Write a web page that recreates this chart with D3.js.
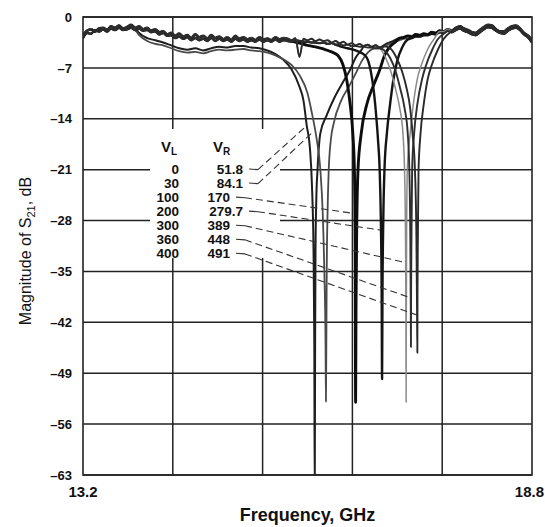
<!DOCTYPE html>
<html><head><meta charset="utf-8">
<script src="https://cdn.jsdelivr.net/npm/d3@7"></script>
<style>
html,body{margin:0;padding:0;background:#fff;}
svg{display:block;font-family:"Liberation Sans",Arial,Helvetica,sans-serif;}
</style></head>
<body>
<svg id="chart" width="545" height="527"></svg>
<script>
// ---------- DATA ----------
const xDomain = [13.2, 18.8];
const yDomain = [-63, 0];
const yTicks = [0, -7, -14, -21, -28, -35, -42, -49, -56, -63];
const xTickLabels = [13.2, 18.8];
const xGrid = [14.32, 15.44, 16.56, 17.68];

const VL = [0, 30, 100, 200, 300, 360, 400];
const VR = ["51.8", "84.1", "170", "279.7", "389", "448", "491"];

// leader line targets (frequency GHz, dB)
const leaderF  = [15.994, 16.069, 16.568, 16.904, 17.191, 17.278, 17.366];
const leaderDb = [-14.9, -15.8, -27.0, -29.3, -33.7, -38.6, -41.0];

// shared baseline frequency grid (GHz)
const baseFreq = [13.20,13.25,13.30,13.35,13.40,13.45,13.50,13.55,13.60,13.65,13.70,13.75,13.80,13.85,13.90,13.95,
14.00,14.05,14.10,14.15,14.20,14.25,14.30,14.35,14.40,14.45,14.50,14.55,14.60,14.65,14.70,14.75,14.80,14.85,14.90,14.95,
15.00,15.05,15.10,15.15,15.20,15.25,15.30,15.35,15.40,15.45,15.50,15.55,15.60,15.65,15.70,15.75,15.80,15.85,15.90,15.95,
16.00,16.05,16.10,16.15,16.20,16.25,16.30,16.35,16.40,16.45,16.50,16.55,16.60,16.65,16.70,16.75,16.80,16.85,16.90,16.95,
17.00,17.05,17.10,17.15,17.20,17.25,17.30,17.35,17.40,17.45,17.50,17.55,17.60,17.65,17.70,17.75,17.80,17.85,17.90,17.95,
18.00,18.05,18.10,18.15,18.20,18.25,18.30,18.35,18.40,18.45,18.50,18.55,18.60,18.65,18.70,18.75,18.80];

// noisy off-resonance trace A (dB)
const baseA = [-2.6,-1.9,-1.7,-2.0,-1.6,-1.5,-1.8,-1.3,-1.5,-1.2,-1.6,-1.4,-1.1,-1.5,-1.3,-1.7,
-1.5,-1.9,-1.7,-2.1,-2.0,-2.4,-2.2,-2.6,-2.3,-2.7,-2.5,-2.9,-2.4,-2.8,-2.6,-3.0,-2.5,-2.9,-2.7,-3.1,
-2.8,-3.2,-2.6,-3.0,-2.8,-3.1,-2.9,-3.2,-2.8,-3.1,-3.0,-3.2,-2.8,-3.1,-2.9,-3.0,-3.2,-2.9,-5.5,-3.0,
-3.2,-3.0,-3.3,-3.1,-3.3,-3.2,-3.5,-3.3,-3.6,-3.4,-3.8,-3.6,-3.9,-3.7,-4.0,-3.8,-4.1,-3.9,-4.2,-3.9,
-3.6,-3.4,-3.1,-2.9,-2.8,-2.6,-2.7,-2.4,-2.5,-2.3,-2.4,-2.1,-2.2,-1.9,-2.0,-1.7,-1.9,-1.5,-1.3,-1.6,
-1.8,-2.1,-2.2,-1.8,-1.4,-1.1,-1.2,-1.7,-2.0,-2.0,-1.6,-1.3,-1.2,-1.6,-2.2,-2.6,-3.2];

// noisy off-resonance trace B (dB)
const baseB = [-2.9,-2.2,-2.3,-1.8,-2.0,-1.7,-2.0,-1.6,-1.8,-1.5,-1.8,-1.7,-1.5,-1.8,-1.6,-1.9,
-1.8,-2.1,-2.0,-2.4,-2.2,-2.6,-2.5,-2.9,-2.7,-3.0,-2.8,-3.2,-2.9,-3.2,-3.0,-3.3,-2.9,-3.3,-3.0,-3.3,
-3.1,-3.4,-3.0,-3.3,-3.1,-3.4,-3.2,-3.4,-3.1,-3.4,-3.2,-3.4,-3.1,-3.4,-3.2,-3.3,-3.4,-3.2,-3.3,-3.4,
-3.4,-3.5,-3.5,-3.6,-3.5,-3.7,-3.6,-3.8,-3.7,-3.9,-3.8,-4.0,-4.0,-4.1,-4.1,-4.2,-4.2,-4.3,-4.3,-4.1,
-3.8,-3.7,-3.4,-3.2,-3.0,-2.9,-2.9,-2.7,-2.7,-2.5,-2.5,-2.3,-2.4,-2.1,-2.2,-1.9,-2.1,-1.8,-1.6,-1.9,
-2.1,-2.4,-2.5,-2.1,-1.7,-1.4,-1.5,-1.9,-2.2,-2.3,-1.9,-1.6,-1.5,-1.8,-2.4,-2.8,-3.5];

// resonance segments per bias (frequency GHz, dB)
const notch0 = [[13.90,-2.2],[14.00,-2.9],[14.10,-3.2],[14.20,-3.5],[14.30,-3.9],[14.40,-4.3],[14.50,-4.5],[14.60,-4.3],[14.70,-4.6],[14.80,-4.3],[14.90,-4.1],[15.00,-4.2],[15.10,-4.0],[15.20,-4.0],[15.30,-4.2],[15.40,-4.3],[15.50,-4.6],[15.60,-5.1],[15.70,-5.9],[15.80,-7.2],[15.90,-9.6],[15.95,-11.5],[15.99,-14.9],[16.03,-18],[16.055,-23],[16.075,-32],[16.085,-45],[16.09,-66],[16.095,-45],[16.10,-32],[16.11,-25],[16.125,-21],[16.16,-16],[16.24,-13.5],[16.34,-11],[16.44,-9],[16.53,-7.3],[16.60,-5.6],[16.68,-4.4]];
const notch30 = [[13.90,-2.5],[14.00,-3.3],[14.10,-3.7],[14.20,-3.9],[14.30,-4.3],[14.40,-4.7],[14.50,-4.9],[14.60,-4.8],[14.70,-5.0],[14.80,-4.7],[14.90,-4.5],[15.00,-4.6],[15.10,-4.5],[15.20,-4.4],[15.30,-4.6],[15.40,-4.7],[15.50,-4.9],[15.60,-5.3],[15.70,-5.8],[15.80,-6.6],[15.90,-8.0],[16.00,-10.5],[16.06,-13.5],[16.11,-16.5],[16.16,-21],[16.19,-27],[16.21,-35],[16.225,-45],[16.23,-52.9],[16.235,-45],[16.24,-35],[16.25,-27],[16.265,-21],[16.29,-17],[16.33,-14.5],[16.42,-11.5],[16.52,-9.5],[16.60,-7.8],[16.68,-6.0],[16.76,-4.8],[16.85,-4.3]];
const notch100 = [[15.80,-3.3],[15.90,-3.6],[16.00,-3.9],[16.10,-4.1],[16.20,-4.4],[16.30,-4.8],[16.38,-5.3],[16.44,-6.5],[16.49,-8.7],[16.53,-11.8],[16.565,-16],[16.585,-21],[16.595,-32],[16.60,-53],[16.605,-40],[16.615,-28],[16.63,-21],[16.67,-16],[16.74,-12],[16.82,-9.5],[16.90,-7.3],[16.96,-5.3],[17.02,-4.2],[17.10,-3.4]];
const notch200 = [[16.40,-4.0],[16.50,-4.3],[16.60,-4.6],[16.68,-5.0],[16.74,-5.6],[16.79,-7.5],[16.83,-10.5],[16.86,-14],[16.88,-17],[16.90,-21],[16.915,-28],[16.925,-38],[16.93,-49.8],[16.935,-38],[16.945,-28],[16.96,-21],[16.99,-16],[17.03,-12],[17.07,-8.7],[17.12,-6.0],[17.18,-4.2],[17.25,-3.1],[17.30,-2.9]];
const notch300 = [[16.85,-4.0],[16.90,-4.3],[16.97,-5.5],[17.04,-7.5],[17.10,-10],[17.15,-12.5],[17.19,-16],[17.21,-21],[17.222,-30],[17.228,-42],[17.23,-53],[17.232,-42],[17.236,-30],[17.245,-21],[17.28,-16],[17.32,-12],[17.37,-8.5],[17.42,-6.6],[17.50,-4.4],[17.58,-3.0],[17.65,-2.0]];
const notch360 = [[16.90,-4.3],[16.96,-4.6],[17.03,-5.6],[17.10,-7.5],[17.16,-10],[17.21,-12.5],[17.25,-16],[17.27,-21],[17.282,-30],[17.288,-40],[17.29,-45.4],[17.292,-38],[17.297,-30],[17.305,-21],[17.33,-16],[17.37,-12],[17.43,-8.5],[17.48,-6.6],[17.56,-4.4],[17.63,-3.0],[17.70,-2.3]];
const notch400 = [[16.95,-4.0],[17.04,-4.4],[17.11,-5.6],[17.18,-7.5],[17.24,-10],[17.28,-12.5],[17.31,-16],[17.34,-21],[17.358,-30],[17.366,-40],[17.37,-46.2],[17.372,-38],[17.377,-30],[17.385,-21],[17.41,-16],[17.45,-12],[17.50,-8.5],[17.55,-6.6],[17.63,-4.4],[17.70,-3.0],[17.80,-1.9]];

// ---------- BUILD ----------
const series = [
  {vl:0,   notch:notch0,   base:baseA, color:"#1e1e1e", w:2.0},
  {vl:30,  notch:notch30,  base:baseB, color:"#4a4a4a", w:1.8},
  {vl:100, notch:notch100, base:baseA, color:"#0d0d0d", w:2.9},
  {vl:200, notch:notch200, base:baseB, color:"#141414", w:2.4},
  {vl:300, notch:notch300, base:baseA, color:"#8a8a8a", w:1.5},
  {vl:360, notch:notch360, base:baseB, color:"#2e2e2e", w:1.9},
  {vl:400, notch:notch400, base:baseA, color:"#2a2a2a", w:1.9}
];
series.forEach(s => {
  const f0 = s.notch[0][0], f1 = s.notch[s.notch.length-1][0];
  const pre = [], post = [];
  baseFreq.forEach((f,i) => {
    if (f < f0 - 1e-9) pre.push([f, s.base[i]]);
    else if (f > f1 + 1e-9) post.push([f, s.base[i]]);
  });
  s.points = pre.concat(s.notch, post);
});

const W = 545, H = 527;
const m = {l:83, r:13, t:17, b:52};
const svg = d3.select("#chart");
const x = d3.scaleLinear().domain(xDomain).range([m.l, W - m.r]);
const y = d3.scaleLinear().domain(yDomain).range([H - m.b, m.t]);

const gridColor = "#222";

// grid
svg.append("g").selectAll("line").data(yTicks).join("line")
  .attr("x1", x(xDomain[0])).attr("x2", x(xDomain[1]))
  .attr("y1", d => y(d)).attr("y2", d => y(d))
  .attr("stroke", gridColor).attr("stroke-width", 1.5);
svg.append("g").selectAll("line").data(xGrid).join("line")
  .attr("x1", d => x(d)).attr("x2", d => x(d))
  .attr("y1", y(yDomain[0])).attr("y2", y(yDomain[1]))
  .attr("stroke", gridColor).attr("stroke-width", 1.5);
svg.append("rect")
  .attr("x", x(xDomain[0])).attr("y", y(yDomain[1]))
  .attr("width", x(xDomain[1]) - x(xDomain[0]))
  .attr("height", y(yDomain[0]) - y(yDomain[1]))
  .attr("fill", "none").attr("stroke", gridColor).attr("stroke-width", 1.6);

// white backing behind the legend table (grid is interrupted there)
svg.append("rect").attr("x", 150).attr("y", 129).attr("width", 130).attr("height", 129)
  .attr("fill", "#fff");

// clip
svg.append("clipPath").attr("id", "clip").append("rect")
  .attr("x", x(xDomain[0])).attr("y", y(yDomain[1]))
  .attr("width", x(xDomain[1]) - x(xDomain[0]))
  .attr("height", y(yDomain[0]) - y(yDomain[1]));

const line = d3.line().x(d => x(d[0])).y(d => y(d[1])).curve(d3.curveMonotoneX);
svg.append("g").attr("clip-path", "url(#clip)")
  .selectAll("path").data(series).join("path")
  .attr("d", d => line(d.points))
  .attr("fill", "none")
  .attr("stroke", d => d.color)
  .attr("stroke-width", d => d.w)
  .attr("stroke-linejoin", "round");

const ink = "#111";
// y tick labels
svg.append("g").selectAll("text").data(yTicks).join("text")
  .attr("x", 72).attr("y", d => y(d)).attr("dy", "0.36em")
  .attr("text-anchor", "end")
  .attr("font-size", 13).attr("font-weight", "bold").attr("fill", ink)
  .text(d => d === 0 ? "0" : "\u2013" + Math.abs(d));

// x tick labels (last one kept inside the page edge)
svg.append("g").selectAll("text").data(xTickLabels).join("text")
  .attr("x", (d, i) => i === xTickLabels.length - 1 ? W - 1 : x(d))
  .attr("y", y(yDomain[0]) + 22)
  .attr("text-anchor", (d, i) => i === xTickLabels.length - 1 ? "end" : "middle")
  .attr("font-size", 15).attr("font-weight", "bold").attr("fill", ink)
  .text(d => d.toFixed(1));

// axis titles
svg.append("text")
  .attr("x", (x(xDomain[0]) + x(xDomain[1])) / 2).attr("y", 521)
  .attr("text-anchor", "middle")
  .attr("font-size", 18).attr("font-weight", "bold").attr("fill", ink)
  .text("Frequency, GHz");

const yt = svg.append("text")
  .attr("transform", "translate(31,251) rotate(-90)")
  .attr("text-anchor", "middle")
  .attr("font-size", 16).attr("fill", ink);
yt.append("tspan").text("Magnitude of S");
yt.append("tspan").attr("font-size", 11).attr("dy", 4).text("21");
yt.append("tspan").attr("dy", -4).text(", dB");

// legend table
const rowY0 = 169, rowStep = 14.05;
const lg = svg.append("g").attr("fill", ink).attr("font-weight", "bold");
const hV = lg.append("text").attr("x", 161).attr("y", 152).attr("font-size", 15);
hV.append("tspan").text("V");
hV.append("tspan").attr("font-size", 10).attr("dy", 3).text("L");
const hR = lg.append("text").attr("x", 213).attr("y", 152).attr("font-size", 15);
hR.append("tspan").text("V");
hR.append("tspan").attr("font-size", 10).attr("dy", 3).text("R");

lg.selectAll("text.vl").data(VL).join("text").attr("class", "vl")
  .attr("x", 179).attr("y", (d, i) => rowY0 + i * rowStep).attr("dy", "0.36em")
  .attr("text-anchor", "end").attr("font-size", 13.5).text(d => d);
lg.selectAll("text.vr").data(VR).join("text").attr("class", "vr")
  .attr("x", d => d.includes(".") ? 243 : 230)
  .attr("y", (d, i) => rowY0 + i * rowStep).attr("dy", "0.36em")
  .attr("text-anchor", "end").attr("font-size", 13.5).text(d => d);

// leader lines
const leaders = svg.append("g").attr("fill", "none").attr("stroke", "#333").attr("stroke-width", 1.1);
VR.forEach((v, i) => {
  const yy = rowY0 + i * rowStep;
  const sx = (v.includes(".") ? 243 : 230) + 6;
  leaders.append("line").attr("x1", sx).attr("y1", yy).attr("x2", sx + 9).attr("y2", yy + 0.6);
  leaders.append("line").attr("x1", sx + 9).attr("y1", yy + 0.6)
    .attr("x2", x(leaderF[i])).attr("y2", y(leaderDb[i]))
    .attr("stroke-dasharray", "7,4");
});
</script>
</body></html>
